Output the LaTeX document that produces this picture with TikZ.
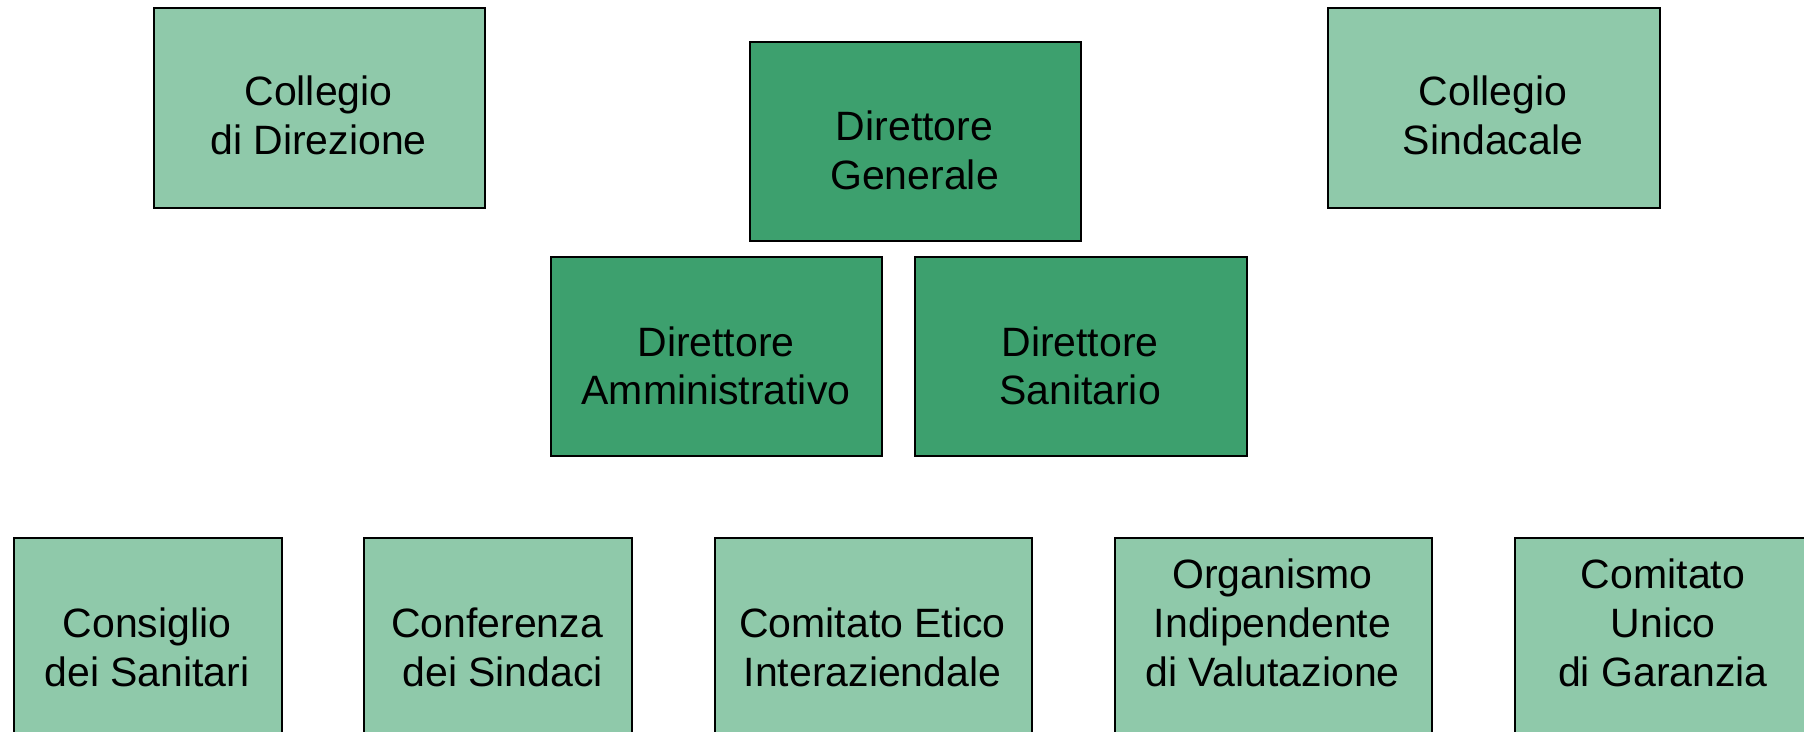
\documentclass[tikz,border=0pt]{standalone}
\usepackage{fontspec}
\setmainfont{Liberation Sans}
\definecolor{lightgreen}{RGB}{143,201,170}
\definecolor{darkgreen}{RGB}{61,160,110}
\begin{document}
\begin{tikzpicture}[x=0.5pt,y=-0.5pt,
  box/.style={draw=black,line width=1.1pt,rectangle,inner sep=0pt,anchor=north west},
  lbox/.style={box,fill=lightgreen},
  dbox/.style={box,fill=darkgreen},
  txt/.style={inner sep=0pt,align=center,anchor=base,font=\fontsize{20.5pt}{24.5pt}\selectfont}]
\useasboundingbox (0,0) rectangle (1804,732);
\clip (0,0) rectangle (1804,732);
\fill[white] (0,0) rectangle (1804,732);
% top row
\node[lbox,minimum width=165.5pt,minimum height=100pt] (cdd) at (153,7) {};
\node[txt] (cddt) at (318.5,155) {Collegio\\di Direzione};
\node[dbox,minimum width=165.5pt,minimum height=99.5pt] (dg) at (749,41) {};
\node[txt] (dgt) at (914.5,190) {Direttore\\Generale};
\node[lbox,minimum width=166pt,minimum height=100pt] (cs) at (1327,7) {};
\node[txt] (cst) at (1493,155) {Collegio\\Sindacale};
% middle row
\node[dbox,minimum width=165.5pt,minimum height=99.5pt] (da) at (550,256) {};
\node[txt] (dat) at (716,405) {Direttore\\Amministrativo};
\node[dbox,minimum width=166pt,minimum height=99.5pt] (ds) at (914,256) {};
\node[txt] (dst) at (1080,405) {Direttore\\Sanitario};
% bottom row
\node[lbox,minimum width=134pt,minimum height=100pt] (cds) at (13,537) {};
\node[txt] (cdst) at (147,686) {Consiglio\\dei Sanitari};
\node[lbox,minimum width=134pt,minimum height=100pt] (cdsi) at (363,537) {};
\node[txt] (cdsit) at (497,686) {Conferenza\\\ dei Sindaci};
\node[lbox,minimum width=158.5pt,minimum height=100pt] (cei) at (714,537) {};
\node[txt] (ceit) at (872.5,686) {Comitato Etico\\Interaziendale};
\node[lbox,minimum width=158.5pt,minimum height=100pt] (oiv) at (1114,537) {};
\node[txt] (oivt) at (1272.5,686) {Organismo\\Indipendente\\di Valutazione};
\node[lbox,minimum width=160pt,minimum height=100pt] (cug) at (1514,537) {};
\node[txt] (cugt) at (1663,686) {Comitato\\Unico\\di Garanzia};
\end{tikzpicture}
\end{document}
